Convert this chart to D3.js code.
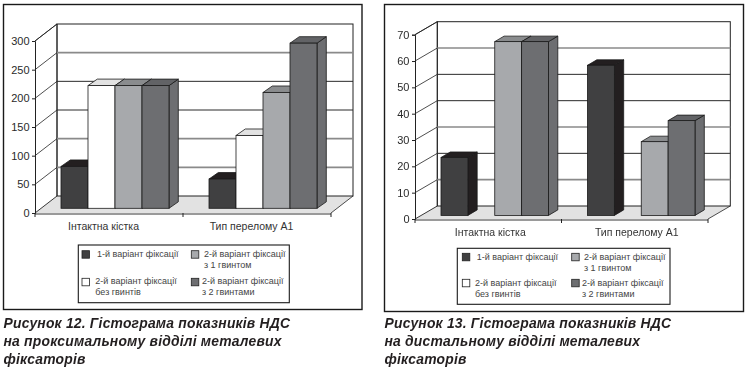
<!DOCTYPE html>
<html>
<head>
<meta charset="utf-8">
<script src="https://cdn.jsdelivr.net/npm/d3@7"></script>
<style>
  html, body { margin: 0; padding: 0; background: #fff; }
  svg { display: block; filter: blur(0.3px); }
  text { font-family: "Liberation Sans", Arial, sans-serif; fill: #2a2a2a; }
</style>
</head>
<body>
<svg id="page" width="749" height="372"></svg>
<script>
const groups = ['Інтактна кістка', 'Тип перелому А1'];
const seriesNames = ['v1', 'v2none', 'v2one', 'v2two'];
const leftValues = [[73, 214, 214, 214], [51, 127, 202, 288]];
const rightValues = [[22, 0, 66, 66], [57, 0, 28, 36]];
const leftTicks = [0, 50, 100, 150, 200, 250, 300];
const rightTicks = [0, 10, 20, 30, 40, 50, 60, 70];
const legendLabels = [
  ['1-й варіант фіксації'],
  ['2-й варіант фіксації', 'без гвинтів'],
  ['2-й варіант фіксації', 'з 1 гвинтом'],
  ['2-й варіант фіксації', 'з 2 гвинтами']
];
const leftCaption = ['Рисунок 12. Гістограма показників НДС', 'на проксимальному відділі металевих', 'фіксаторів'];
const rightCaption = ['Рисунок 13. Гістограма показників НДС', 'на дистальному відділі металевих', 'фіксаторів'];

const colors = {
  v1: { front: '#404041', top: '#231f20', side: '#231f20' },
  v2none: { front: '#ffffff', top: '#e2e2e2', side: '#c8c8c8' },
  v2one: { front: '#a7a9ac', top: '#8a8c8e', side: '#808285' },
  v2two: { front: '#6d6e71', top: '#626366', side: '#6d6e71' }
};

const svg = d3.select('#page');

function drawChart(o) {
  const g = svg.append('g');
  g.append('rect').attr('x', o.frame[0]).attr('y', o.frame[1])
    .attr('width', o.frame[2]).attr('height', o.frame[3])
    .attr('fill', '#fff').attr('stroke', '#1a1a1a').attr('stroke-width', 1.4);

  const y = d3.scaleLinear().domain(o.domain).range([o.y0, o.y1]);
  const x = d3.scaleBand().domain(groups).range([o.x0, o.x1]);
  const xs = d3.scaleBand().domain(seriesNames).range([o.barPad, x.bandwidth() - o.barPad]);
  const dx = o.depthX, dy = o.depthY;

  // floor
  g.append('path')
    .attr('d', d3.line()([[o.x0, o.y0], [o.x0 + dx, o.y0 - dy], [o.x1 + dx, o.y0 - dy], [o.x1, o.y0]]) + 'Z')
    .attr('fill', '#e2e2e2');

  // back wall and side wall lines, one per tick
  g.append('path')
    .attr('d', d3.line()([[o.x0, o.y0], [o.x0 + dx, o.y0 - dy], [o.x0 + dx, y(o.domain[1]) - dy], [o.x0, y(o.domain[1])]]))
    .attr('fill', 'none').attr('stroke', '#222').attr('stroke-width', 0.9);
  g.append('rect').attr('x', o.x0 + dx).attr('y', y(o.domain[1]) - dy)
    .attr('width', o.x1 - o.x0).attr('height', o.y0 - y(o.domain[1]))
    .attr('fill', 'none').attr('stroke', '#222').attr('stroke-width', 1);
  o.ticks.forEach(t => {
    if (t === 0) return;
    g.append('line').attr('x1', o.x0).attr('y1', y(t)).attr('x2', o.x0 + dx).attr('y2', y(t) - dy)
      .attr('stroke', '#222').attr('stroke-width', 0.8);
    if (t === o.domain[1]) return;
    g.append('line').attr('x1', o.x0 + dx).attr('x2', o.x1 + dx)
      .attr('y1', y(t) - dy).attr('y2', y(t) - dy)
      .attr('stroke', o.gridDark.includes(t) ? '#2a2a2a' : '#8a8a8a')
      .attr('stroke-width', o.gridDark.includes(t) ? 1 : 1.6);
  });

  // front edge of floor and right edge
  g.append('line').attr('x1', o.x0).attr('x2', o.x1).attr('y1', o.y0 + 1).attr('y2', o.y0 + 1)
    .attr('stroke', '#9a9a9a').attr('stroke-width', 2);
  g.append('line').attr('x1', o.x1).attr('x2', o.x1 + dx).attr('y1', o.y0).attr('y2', o.y0 - dy)
    .attr('stroke', '#222').attr('stroke-width', 0.8);

  // bars
  const bx = o.barDepthX, by = o.barDepthY;
  groups.forEach((name, gi) => {
    const layer = g.append('g').attr('transform', `translate(${x(name) + o.barShift},0)`);
    seriesNames.forEach((s, si) => {
      const v = o.values[gi][si];
      if (!v) return;
      const c = colors[s];
      const l = xs(s), r = l + xs.bandwidth();
      const top = y(v) - o.barLift, bot = y(0) - o.barLift;
      layer.append('path').attr('d', d3.line()([[r, top], [r + bx, top - by], [r + bx, bot - by], [r, bot]]) + 'Z')
        .attr('fill', c.side).attr('stroke', '#1a1a1a').attr('stroke-width', 0.8);
      layer.append('path').attr('d', d3.line()([[l, top], [l + bx, top - by], [r + bx, top - by], [r, top]]) + 'Z')
        .attr('fill', c.top).attr('stroke', '#1a1a1a').attr('stroke-width', 0.8);
      layer.append('rect').attr('x', l).attr('y', top).attr('width', r - l).attr('height', bot - top)
        .attr('fill', c.front).attr('stroke', '#1a1a1a').attr('stroke-width', 0.8);
    });
  });

  // axes
  const ya = g.append('g').attr('transform', `translate(${o.x0},0)`)
    .call(d3.axisLeft(y).tickValues(o.ticks).tickSize(3).tickPadding(2.5));
  ya.select('.domain').attr('stroke', '#222');
  ya.selectAll('line').attr('stroke', '#222');
  ya.selectAll('text').attr('font-size', 11).style('fill', '#2a2a2a');

  const xa = g.append('g').attr('transform', `translate(${o.labelShift},${o.y0})`)
    .call(d3.axisBottom(x).tickSize(0).tickPadding(o.labelPad));
  xa.select('.domain').remove();
  xa.selectAll('text').attr('font-size', 10.5).style('fill', '#333');
  [0, 1, 2].forEach(i => {
    const px = o.x0 + i * x.bandwidth();
    g.append('line').attr('x1', px).attr('x2', px).attr('y1', o.y0).attr('y2', o.y0 + 4).attr('stroke', '#222');
  });

  // legend
  const lg = g.append('g').attr('transform', `translate(${o.legend[0]},${o.legend[1]})`);
  lg.append('rect').attr('width', o.legend[2]).attr('height', o.legend[3])
    .attr('fill', '#fff').attr('stroke', '#1a1a1a').attr('stroke-width', 1.1);
  seriesNames.forEach((s, i) => {
    lg.append('rect').attr('x', o.swatchX[i]).attr('y', o.swatchY[i]).attr('width', 7.5).attr('height', 7.5)
      .attr('fill', colors[s].front).attr('stroke', '#222').attr('stroke-width', 0.8);
    legendLabels[i].forEach((line, li) => {
      lg.append('text').attr('x', o.textX[i]).attr('y', o.textY[i] + li * 11)
        .attr('font-size', 9).style('fill', '#444').text(line);
    });
  });

  // caption
  o.caption.forEach((line, i) => {
    svg.append('text').attr('x', o.captionX).attr('y', o.captionY + i * 18)
      .attr('font-size', 13.9).attr('font-weight', 'bold').attr('font-style', 'italic')
      .style('fill', '#231f20').attr('letter-spacing', 0.2).text(line);
  });
}

drawChart({
  frame: [3.5, 4.5, 358.5, 305], domain: [0, 300], ticks: leftTicks, values: leftValues,
  x0: 35, x1: 331, y0: 213, y1: 41, depthX: 22, depthY: 17,
  barPad: 20, barShift: 6, barLift: 4.7, barDepthX: 9.3, barDepthY: 6.5,
  gridDark: [150, 200], labelPad: 10, labelShift: -5.5, legend: [78.3, 245, 211, 57.7],
  swatchX: [3.7, 3.7, 113, 113], swatchY: [5.7, 33.3, 5.7, 33.3],
  textX: [18.7, 17, 125.7, 123.7], textY: [12, 38.5, 12, 38.5],
  caption: leftCaption, captionX: 3.5, captionY: 328
});
drawChart({
  frame: [384.5, 4.5, 359, 307], domain: [0, 70], ticks: rightTicks, values: rightValues,
  x0: 415, x1: 708, y0: 219, y1: 34.7, depthX: 22.3, depthY: 13,
  barPad: 19.5, barShift: 6.5, barLift: 3.6, barDepthX: 9.3, barDepthY: 5.5,
  gridDark: [20, 40, 50], labelPad: 10, labelShift: 2, legend: [457.3, 248.3, 212.7, 56],
  swatchX: [5, 5, 114.4, 114.4], swatchY: [5, 31, 5, 31],
  textX: [19.4, 17.7, 126.7, 124.7], textY: [11.7, 37.4, 11.7, 37.4],
  caption: rightCaption, captionX: 384.5, captionY: 328
});
</script>
</body>
</html>
